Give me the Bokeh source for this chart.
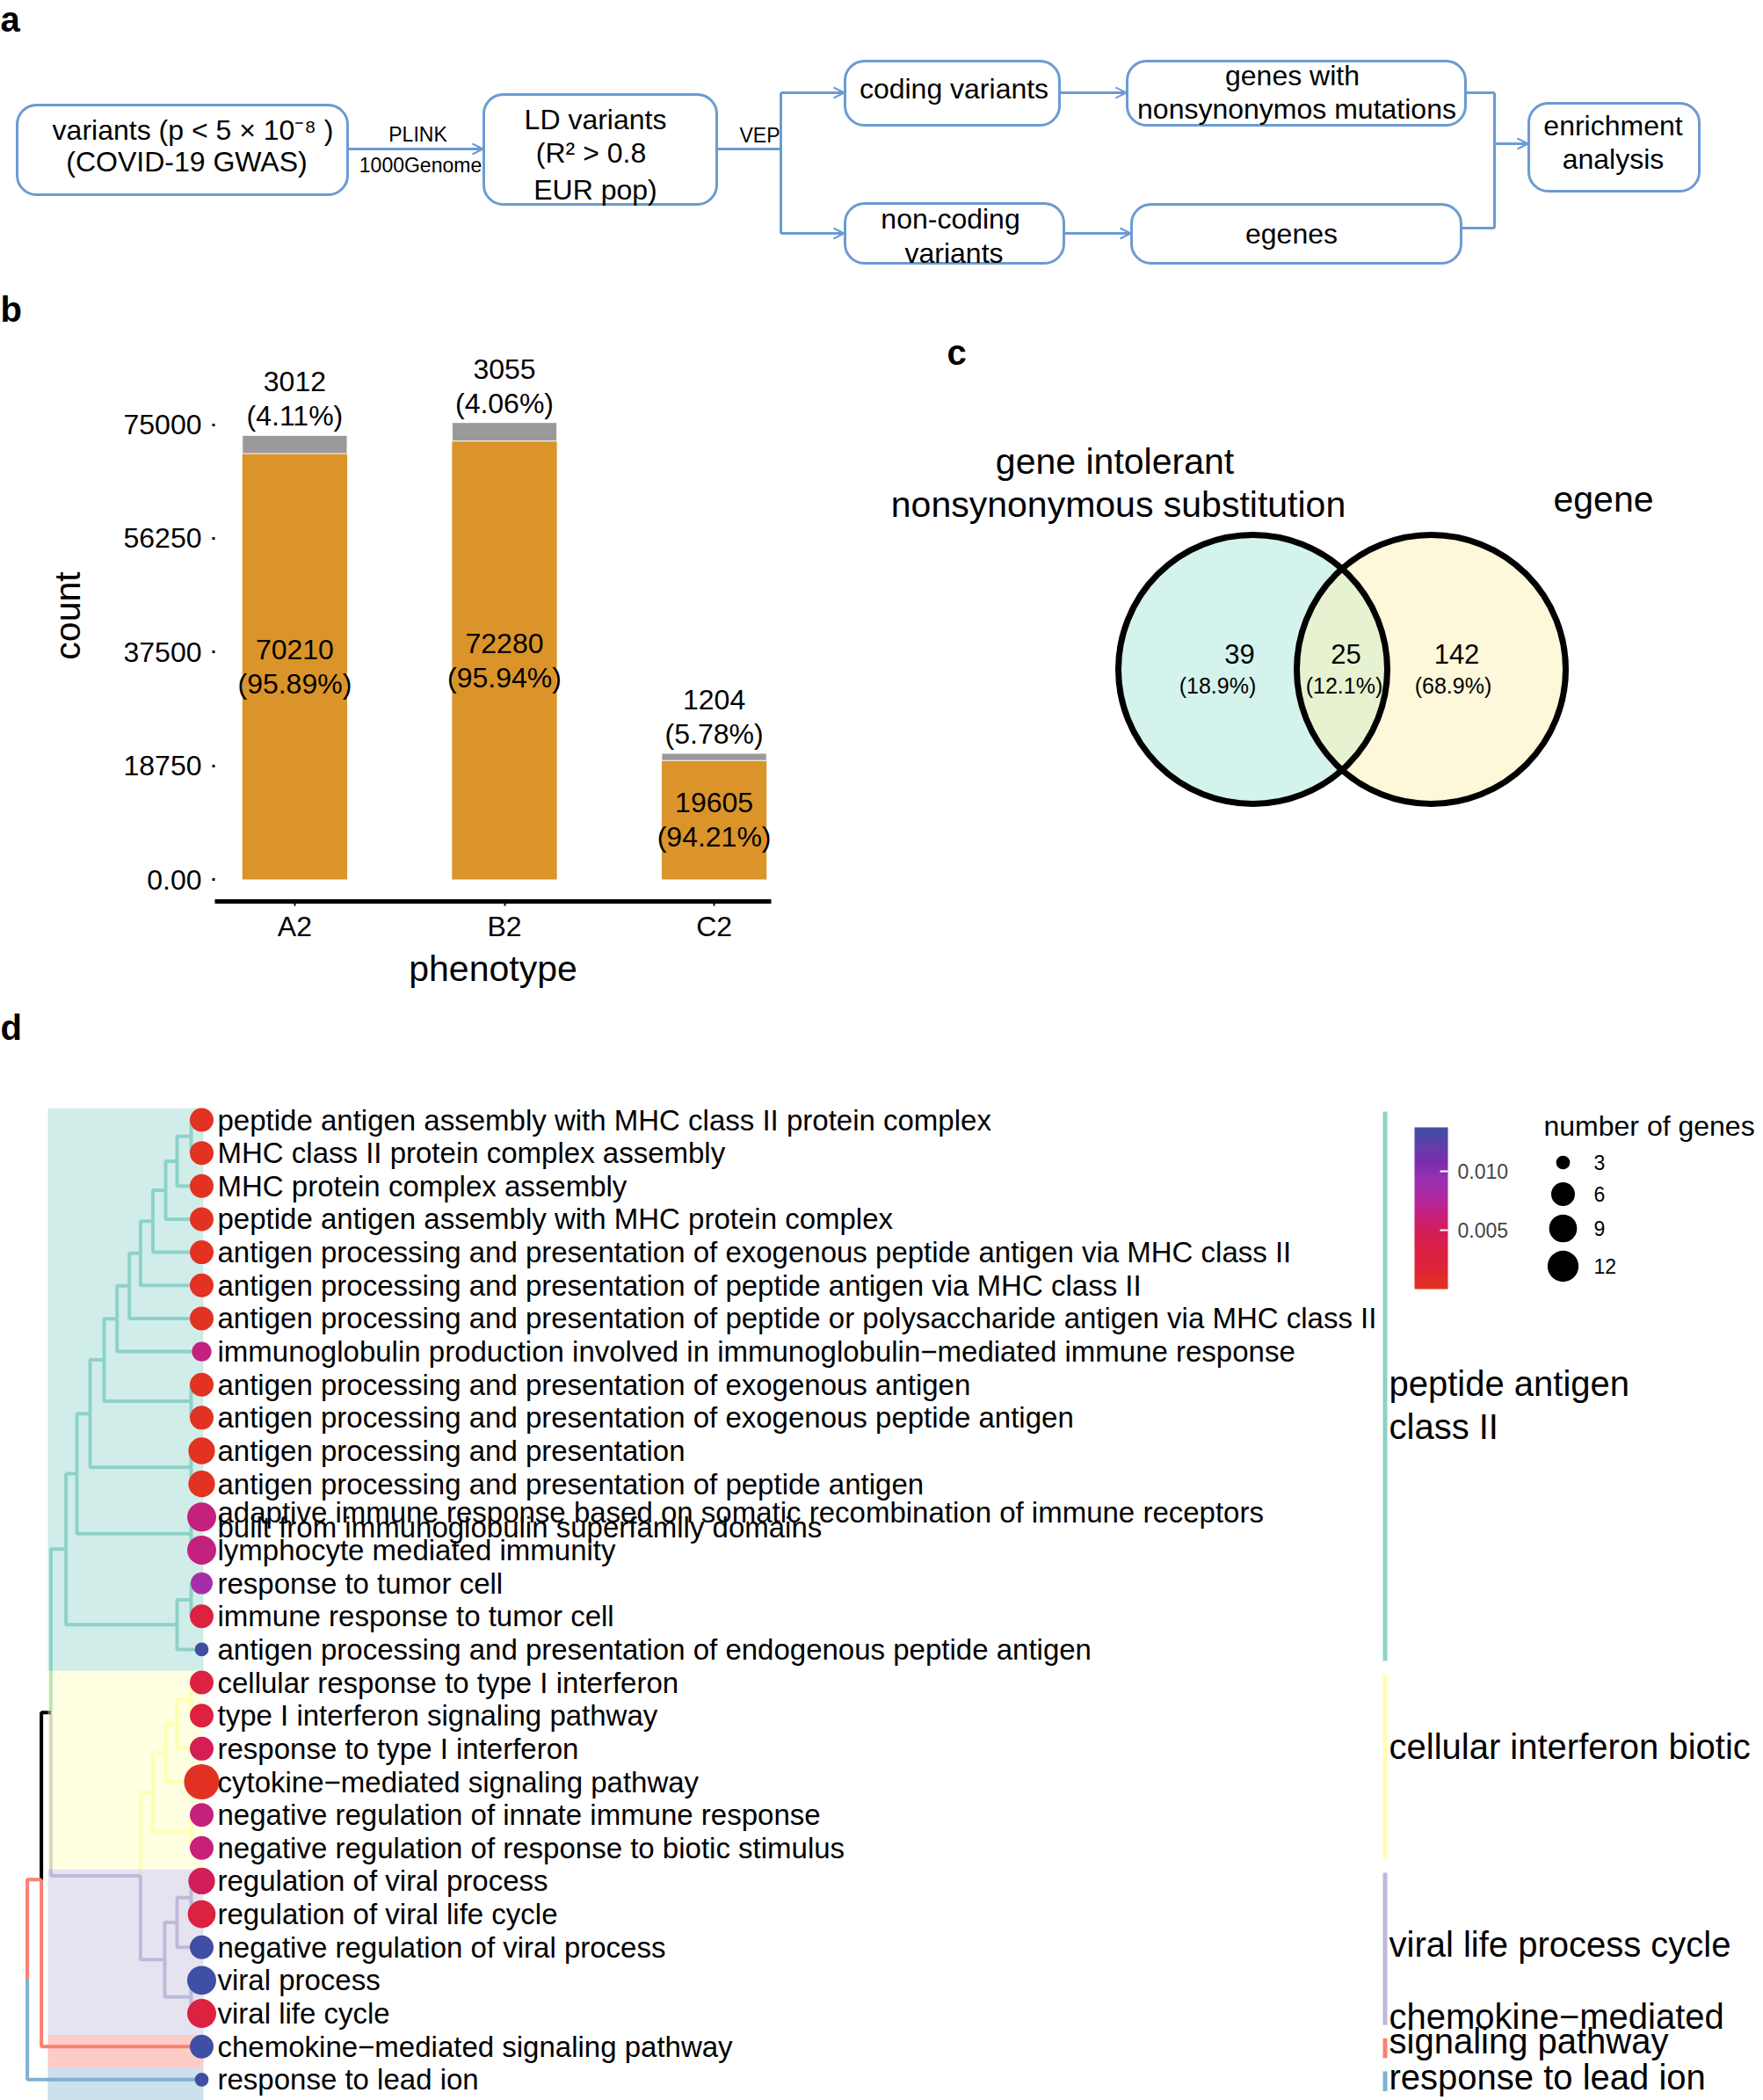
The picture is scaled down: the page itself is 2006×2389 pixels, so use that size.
import numpy as np
from bokeh.plotting import figure
from bokeh.models import (Range1d, FixedTicker, Arrow, OpenHead, ColumnDataSource,
                          LinearColorMapper, ColorBar, PrintfTickFormatter)
from bokeh.layouts import column, row
from bokeh.core.properties import value
from bokeh.embed import file_html
from bokeh.resources import INLINE

FONT = "Liberation Sans"
F = value(FONT)

# ---------------- data: panel a (workflow) ----------------
flow_lines = ["variants (p < 5 \u00d7 10\u207b\u2078 )", "(COVID-19 GWAS)",
              "LD variants", "(R\u00b2 > 0.8", "EUR pop)",
              "coding variants", "genes with", "nonsynonymos mutations",
              "non-coding", "variants", "egenes", "enrichment", "analysis"]
flow_edge_labels = ["PLINK", "1000Genome", "VEP"]

# ---------------- data: panel b (stacked bars) ----------------
phenotypes = ["A2", "B2", "C2"]
count_main = [70210, 72280, 19605]
count_other = [3012, 3055, 1204]
pct_main = ["95.89%", "95.94%", "94.21%"]
pct_other = ["4.11%", "4.06%", "5.78%"]
y_ticks = [0, 18750, 37500, 56250, 75000]
y_tick_labels = ["0.00", "18750", "37500", "56250", "75000"]

# ---------------- data: panel c (venn) ----------------
venn_sets = ["gene intolerant\nnonsynonymous substitution", "egene"]
venn_counts = [39, 25, 142]
venn_pcts = ["(18.9%)", "(12.1%)", "(68.9%)"]

# ---------------- data: panel d (GO tree) ----------------
go_terms = [
    "peptide antigen assembly with MHC class II protein complex",
    "MHC class II protein complex assembly",
    "MHC protein complex assembly",
    "peptide antigen assembly with MHC protein complex",
    "antigen processing and presentation of exogenous peptide antigen via MHC class II",
    "antigen processing and presentation of peptide antigen via MHC class II",
    "antigen processing and presentation of peptide or polysaccharide antigen via MHC class II",
    "immunoglobulin production involved in immunoglobulin\u2212mediated immune response",
    "antigen processing and presentation of exogenous antigen",
    "antigen processing and presentation of exogenous peptide antigen",
    "antigen processing and presentation",
    "antigen processing and presentation of peptide antigen",
    "adaptive immune response based on somatic recombination of immune receptors\nbuilt from immunoglobulin superfamily domains",
    "lymphocyte mediated immunity",
    "response to tumor cell",
    "immune response to tumor cell",
    "antigen processing and presentation of endogenous peptide antigen",
    "cellular response to type I interferon",
    "type I interferon signaling pathway",
    "response to type I interferon",
    "cytokine\u2212mediated signaling pathway",
    "negative regulation of innate immune response",
    "negative regulation of response to biotic stimulus",
    "regulation of viral process",
    "regulation of viral life cycle",
    "negative regulation of viral process",
    "viral process",
    "viral life cycle",
    "chemokine\u2212mediated signaling pathway",
    "response to lead ion",
]
gene_counts = [6, 6, 6, 6, 6, 6, 6, 4, 6, 6, 8, 8, 10, 10, 5, 6, 3,
               6, 6, 6, 17, 6, 6, 8, 9, 6, 10, 10, 6, 3]
p_adjust = [0.0002, 0.0002, 0.0002, 0.0002, 0.0002, 0.0002, 0.0002, 0.0064,
            0.0002, 0.0002, 0.0002, 0.0002, 0.0064, 0.0064, 0.0085, 0.0027, 0.0137,
            0.0029, 0.0027, 0.0045, 0.0003, 0.0064, 0.0062,
            0.0049, 0.0027, 0.0137, 0.0137, 0.0027, 0.0137, 0.0137]
term_cluster = [0] * 17 + [1] * 6 + [2] * 5 + [3] + [4]
cluster_label_lines = ["peptide antigen", "class II", "cellular interferon biotic",
                       "viral life process cycle", "chemokine\u2212mediated",
                       "signaling pathway", "response to lead ion"]
legend_counts = [3, 6, 9, 12]
colorbar_ticks = [0.005, 0.010]
panel_letters = ["a", "b", "c", "d"]

# tree (internal nodes, their children and merge heights)
tree_nodes = ["n01", "n02", "n03", "n04", "n05", "n06", "n07", "n89", "n09", "n1011",
              "n011", "n1213", "n013", "n1415", "n1416", "C", "J", "I", "G", "H", "E",
              "K", "L", "M", "Fv", "D", "B", "A", "R"]
tree_children = [[0, 1], ["n01", 2], ["n02", 3], ["n03", 4], ["n04", 5], ["n05", 6],
                 ["n06", 7], [8, 9], ["n07", "n89"], [10, 11], ["n09", "n1011"],
                 [12, 13], ["n011", "n1213"], [14, 15], ["n1415", 16], ["n013", "n1416"],
                 [17, 18], ["J", 19], ["I", 20], [21, 22], ["G", "H"],
                 [23, 24], ["K", 25], [26, 27], ["L", "M"], ["E", "Fv"], ["C", "D"],
                 ["B", 28], ["A", 29]]
tree_height = [217, 201, 188, 173.5, 159.4, 146.7, 132.7, 217, 118, 217, 102, 217, 87,
               217, 201, 74.6, 217, 201, 188, 217, 173.5, 217, 201, 217, 187, 159.4,
               57.4, 46.6, 30.6]
tree_group = [0] * 16 + [1] * 5 + [2] * 4 + [2, 5, 3, 5]

# ---------------- styles ----------------
BOX_BLUE = "#6b9bd2"
ORANGE = "#db9429"
GREY = "#9b999a"
SET3 = ["#8DD3C7", "#FFFFB3", "#BEBADA", "#FB8072", "#80B1D3", "#000000"]
W = 2006
LETTER = dict(text_font_size="40px", text_font_style="bold", text_baseline="alphabetic")


def base_fig(w, h, xr, yr, **kw):
    p = figure(width=w, height=h, x_range=xr, y_range=yr, output_backend="svg",
               toolbar_location=None, x_axis_location=None, y_axis_location=None, **kw)
    p.grid.visible = False
    p.outline_line_color = None
    return p


# ================= panel a =================
HA = 375
pa = base_fig(W, HA, Range1d(0, W), Range1d(HA, 0), min_border=0)
box_l = [19, 550, 961, 1282, 961, 1287, 1739]
box_r = [395, 815, 1205, 1667, 1210, 1662, 1933]
box_t = [119, 107, 69, 69, 231, 232, 117]
box_b = [221, 232, 142, 142, 299, 299, 217]
pa.quad(left=box_l, right=box_r, top=box_t, bottom=box_b, fill_color="white",
        line_color=BOX_BLUE, line_width=3, border_radius=22)
fx = [219, 212, 677, 672, 677, 1085, 1470, 1475, 1081, 1085, 1469, 1835, 1835]
fy = [147, 183, 135, 173, 215, 100, 85, 123, 248, 287, 265, 142, 180]
pa.text(x=fx, y=fy, text=flow_lines, text_font=F, text_font_size="32px",
        text_align="center", text_baseline="middle", text_color="black")
pa.text(x=[475, 478, 864], y=[152, 187, 153], text=flow_edge_labels, text_font=F,
        text_font_size="23px", text_align="center", text_baseline="middle")
seg = [((815, 169), (888, 169)), ((888, 105), (888, 265)), ((1667, 105), (1700, 105)),
       ((1700, 105), (1700, 259)), ((1662, 259), (1700, 259))]
pa.segment(x0=[s[0][0] for s in seg], y0=[s[0][1] for s in seg],
           x1=[s[1][0] for s in seg], y1=[s[1][1] for s in seg],
           line_color=BOX_BLUE, line_width=3)
arrows = [((395, 169), (549, 169)), ((888, 105), (960, 105)), ((888, 265), (960, 265)),
          ((1205, 105), (1281, 105)), ((1210, 265), (1286, 265)), ((1700, 163), (1738, 163))]
for (a0, a1) in arrows:
    pa.add_layout(Arrow(end=OpenHead(size=12, line_color=BOX_BLUE, line_width=2),
                        x_start=a0[0], y_start=a0[1], x_end=a1[0], y_end=a1[1],
                        line_color=BOX_BLUE, line_width=3))
# panel letters "a" and "b" (b sits just above the bar chart's frame)
pa.text(x=[0, 0], y=[21, 351], text=panel_letters[:2], text_font=F, **LETTER)

# ================= panel b =================
HB = 1130 - HA
WB = 1008
xb = list(range(1, len(phenotypes) + 1))
totals = [m + o for m, o in zip(count_main, count_other)]
PX_PER_UNIT = 517.5 / 75000.0
Y0_PAGE = 1000.0
yb_lo = -(1025 - Y0_PAGE) / PX_PER_UNIT
yb_hi = (Y0_PAGE - HA) / PX_PER_UNIT
pb = figure(width=WB, height=HB, x_range=Range1d(0.619, 3.272),
            y_range=Range1d(yb_lo, yb_hi), output_backend="svg", toolbar_location=None,
            min_border_left=244, min_border_right=131, min_border_top=0,
            min_border_bottom=105)
pb.grid.visible = False
pb.outline_line_color = None
src_b = ColumnDataSource(dict(x=xb, main=count_main, tot=totals, mid=[m / 2 for m in count_main],
                              lab_main=[f"{n}\n({p})" for n, p in zip(count_main, pct_main)],
                              lab_other=[f"{n}\n({p})" for n, p in zip(count_other, pct_other)]))
pb.vbar(x="x", bottom=0, top="main", width=0.5, fill_color=ORANGE, line_color=None, source=src_b)
pb.vbar(x="x", bottom="main", top="tot", width=0.5, fill_color=GREY, line_color="white",
        line_width=1, source=src_b)
pb.text(x="x", y="mid", text="lab_main", source=src_b, text_font=F, text_font_size="32px",
        text_align="center", text_baseline="middle", text_line_height=1.08)
pb.text(x="x", y="tot", text="lab_other", source=src_b, text_font=F, text_font_size="32px",
        text_align="center", text_baseline="bottom", text_line_height=1.08, y_offset=-4)
pb.xaxis.ticker = FixedTicker(ticks=xb)
pb.xaxis.major_label_overrides = {x: c for x, c in zip(xb, phenotypes)}
pb.xaxis.axis_line_width = 5
pb.xaxis.axis_line_color = "black"
pb.xaxis.major_tick_out = 5
pb.xaxis.major_tick_in = 0
pb.xaxis.major_tick_line_width = 2
pb.xaxis.minor_tick_line_color = None
pb.xaxis.major_label_standoff = 5
pb.xaxis.axis_label = "phenotype"
pb.xaxis.axis_label_standoff = 4
pb.yaxis.ticker = FixedTicker(ticks=y_ticks)
pb.yaxis.major_label_overrides = {t: l for t, l in zip(y_ticks, y_tick_labels)}
pb.yaxis.axis_line_color = None
pb.yaxis.major_tick_out = 3
pb.yaxis.major_tick_in = 0
pb.yaxis.major_tick_line_width = 3
pb.yaxis.minor_tick_line_color = None
pb.yaxis.major_label_standoff = 12
pb.yaxis.axis_label = "count"
pb.yaxis.axis_label_standoff = 38
for ax in (pb.xaxis, pb.yaxis):
    ax.major_label_text_font = FONT
    ax.major_label_text_font_size = "32px"
    ax.major_label_text_color = "black"
    ax.axis_label_text_font = FONT
    ax.axis_label_text_font_size = "41px"
    ax.axis_label_text_font_style = "normal"
    ax.axis_label_text_color = "black"

# ================= panel c =================
pc = base_fig(W - WB, HB, Range1d(WB, W), Range1d(1025, HA),
              min_border_left=0, min_border_right=0, min_border_top=0, min_border_bottom=105)
cx = [1425, 1628]
cy = [761, 761]
pc.circle(x=cx, y=cy, radius=153, fill_color=["#a9e7d9", "#f9f1b3"], fill_alpha=0.5,
          line_color=None)
pc.circle(x=cx, y=cy, radius=153, fill_color=None, line_color="black", line_width=7)
pc.text(x=[1410, 1531, 1657], y=[743, 743, 743], text=[str(v) for v in venn_counts],
        text_font=F, text_font_size="31px", text_align="center", text_baseline="middle")
pc.text(x=[1385, 1529, 1653], y=[779, 779, 779], text=venn_pcts, text_font=F,
        text_font_size="25px", text_align="center", text_baseline="middle")
title_lines = venn_sets[0].split("\n") + [venn_sets[1]]
pc.text(x=[1268, 1272, 1824], y=[524, 573, 567], text=title_lines, text_font=F,
        text_font_size="41px", text_align="center", text_baseline="middle")
pc.text(x=[1077], y=[400], text=[panel_letters[2]], text_font=F, **LETTER)

# ================= panel d =================
TOP_D, BOT_D = 1130, 2389
ROW0, ROWH = 1273.5, 37.65
pd_ = base_fig(W, BOT_D - TOP_D, Range1d(0, W),
               Range1d((BOT_D - ROW0) / ROWH, (TOP_D - ROW0) / ROWH), min_border=0)
pd_.extra_y_ranges = {"px": Range1d(BOT_D, TOP_D)}
LEAF_X = 229
n_terms = len(go_terms)
rows = list(range(n_terms))

node_index = {n: i for i, n in enumerate(tree_nodes)}
node_y = {}


def get_y(c):
    if isinstance(c, int):
        return float(c)
    if c not in node_y:
        node_y[c] = float(np.mean([get_y(k) for k in tree_children[node_index[c]]]))
    return node_y[c]


def get_x(c):
    return LEAF_X if isinstance(c, int) else tree_height[node_index[c]]


def get_col(c):
    return SET3[term_cluster[c]] if isinstance(c, int) else SET3[tree_group[node_index[c]]]


exs, eys, ecol = [], [], []
for i, n in enumerate(tree_nodes):
    px_, py_ = tree_height[i], get_y(n)
    for c in tree_children[i]:
        exs.append([px_, px_, get_x(c)])
        eys.append([py_, get_y(c), get_y(c)])
        ecol.append(get_col(c))
pd_.multi_line(xs=exs, ys=eys, line_color=ecol, line_width=4)

n_cl = max(term_cluster) + 1
cl_first = [min(r for r in rows if term_cluster[r] == k) for k in range(n_cl)]
cl_last = [max(r for r in rows if term_cluster[r] == k) for k in range(n_cl)]
pd_.quad(left=54, right=231, top=[f - 0.35 for f in cl_first],
         bottom=[l + 0.65 for l in cl_last], fill_color=SET3[:n_cl], fill_alpha=0.4,
         line_color=None)
pd_.quad(left=1573, right=1578, top=[f - 0.25 for f in cl_first],
         bottom=[l + 0.35 for l in cl_last], fill_color=SET3[:n_cl], line_color=None)

anchors = [(0.0, "#E2341F"), (0.13, "#DE233A"), (0.239, "#DB2046"), (0.348, "#D21E58"),
           (0.424, "#CA1F6E"), (0.495, "#C0228A"), (0.565, "#B02AA0"), (0.674, "#9B30B0"),
           (0.783, "#7A2EAE"), (0.859, "#6A3AAA"), (1.0, "#3F4FA3")]


def hex2rgb(h):
    return np.array([int(h[i:i + 2], 16) for i in (1, 3, 5)], float)


palette = []
for t in np.linspace(0, 1, 256):
    for (a0, c0), (a1, c1) in zip(anchors[:-1], anchors[1:]):
        if a0 <= t <= a1:
            f = (t - a0) / (a1 - a0)
            c = hex2rgb(c0) * (1 - f) + hex2rgb(c1) * f
            palette.append("#%02x%02x%02x" % tuple(int(round(v)) for v in c))
            break
mapper = LinearColorMapper(palette=palette, low=0.0, high=0.0137)


def dot_size(n):
    return 15.7 + 6.52 * np.sqrt(max(n - 3, 0))


src_d = ColumnDataSource(dict(y=rows, x=[LEAF_X] * n_terms, p=p_adjust,
                              s=[dot_size(n) for n in gene_counts], term=go_terms,
                              tx=[247] * n_terms,
                              yo=[3 if "\n" in t else 0 for t in go_terms]))
pd_.scatter(x="x", y="y", size="s", source=src_d,
            fill_color={"field": "p", "transform": mapper}, line_color=None)
pd_.text(x="tx", y="y", text="term", source=src_d, text_font=F, text_font_size="33px",
         text_baseline="middle", text_align="left", text_line_height=0.47, y_offset="yo")

pd_.text(x=[1580] * len(cluster_label_lines),
         y=[1573, 1622, 1986, 2211, 2293, 2321, 2362], y_range_name="px",
         text=cluster_label_lines, text_font=F, text_font_size="40px",
         text_baseline="middle", text_align="left")

cb = ColorBar(color_mapper=mapper, location=(1609, BOT_D - 1466), width=38, height=184,
              padding=0, margin=0, ticker=FixedTicker(ticks=colorbar_ticks),
              formatter=PrintfTickFormatter(format="%.3f"),
              major_label_text_font=FONT, major_label_text_font_size="23px",
              label_standoff=11, major_tick_line_color="white", major_tick_in=9,
              major_tick_out=0, major_tick_line_width=2, bar_line_color=None,
              background_fill_alpha=0, border_line_color=None)
pd_.add_layout(cb)

pd_.text(x=[1756], y=[1280], y_range_name="px", text=["number of genes"], text_font=F,
         text_font_size="32px", text_baseline="middle")
leg_y = [1322, 1358, 1397, 1440]
pd_.scatter(x=[1778] * len(legend_counts), y=leg_y, y_range_name="px",
            size=[dot_size(n) for n in legend_counts], fill_color="black", line_color=None)
pd_.text(x=[1813] * len(legend_counts), y=leg_y, y_range_name="px",
         text=[str(n) for n in legend_counts], text_font=F, text_font_size="23px",
         text_baseline="middle")
pd_.text(x=[0], y=[1168], y_range_name="px", text=[panel_letters[3]], text_font=F, **LETTER)

layout = column(pa, row(pb, pc), pd_)
open("out.html", "w").write(file_html(layout, INLINE))
